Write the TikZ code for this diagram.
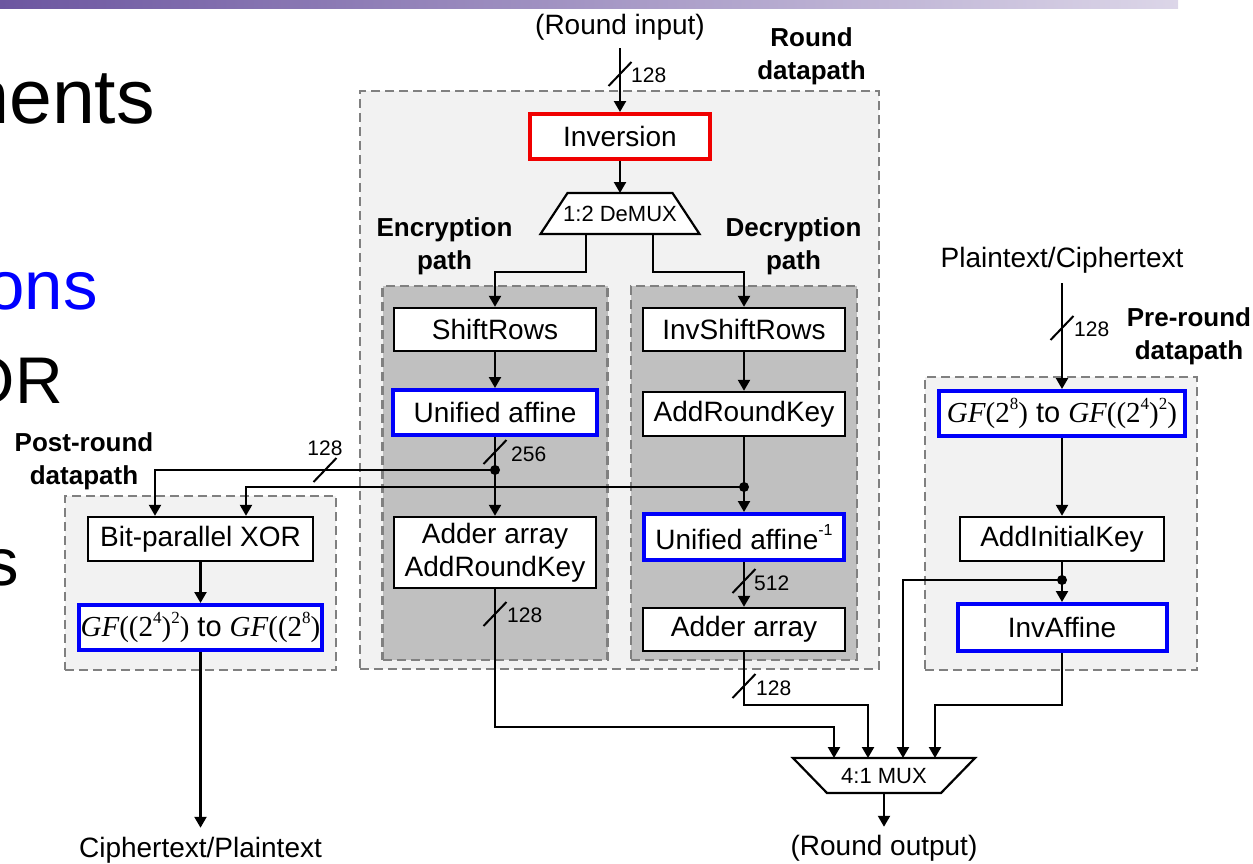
\documentclass[tikz,border=0pt]{standalone}
\usepackage{fontspec}
\setmainfont{Liberation Sans}
\newfontfamily\tnr{Liberation Serif}
\usetikzlibrary{arrows.meta}

\definecolor{grpfill}{RGB}{242,242,242}
\definecolor{pathfill}{RGB}{192,192,192}
\definecolor{grpline}{RGB}{128,128,128}
\definecolor{hlblue}{RGB}{0,0,250}
\definecolor{hlred}{RGB}{240,0,0}
\definecolor{barL}{RGB}{108,86,160}
\definecolor{barR}{RGB}{220,214,232}
\definecolor{slideblue}{RGB}{0,0,255}

% small raised digit in the serif face
\newcommand{\supx}[1]{\raisebox{0.42em}{\fontsize{17}{17}\selectfont\tnr #1}}
\newcommand{\gfit}{{\tnr\itshape GF}}

\begin{document}
\begin{tikzpicture}[x=1pt,y=-1pt,
  box/.style={draw, line width=2.4pt, fill=white, inner sep=0pt,
    minimum width=202pt, minimum height=43pt, align=center,
    font=\fontsize{28}{33}\selectfont},
  hlbox/.style={box, draw=hlblue, line width=4pt},
  grp/.style={draw=grpline, line width=2.2pt, dash pattern=on 9pt off 5pt, inner sep=0pt},
  wire/.style={line width=2.3pt},
  conn/.style={line width=2.3pt, -{Triangle[length=11pt,width=12pt]}},
  lbl/.style={font=\bfseries\fontsize{26}{33}\selectfont, align=center, inner sep=0pt},
  txt/.style={font=\fontsize{28}{32}\selectfont, inner sep=0pt},
  num/.style={font=\fontsize{21}{24}\selectfont, inner sep=0pt},
  bustick/.pic={\draw[line width=2pt] (-11.5,12) -- (11.5,-12);}
]
\useasboundingbox (0,0) rectangle (1253,863);
\clip (0,0) rectangle (1253,863);

% slide title bar and bullet text
\shade[left color=barL, right color=barR] (0,0) rectangle (1178,8);
\node[anchor=base east, inner sep=0pt, font=\fontsize{77}{80}\selectfont] (s1) at (155,123) {ments};
\node[anchor=base east, inner sep=0pt, text=slideblue, font=\fontsize{69}{72}\selectfont] (s2) at (98,309) {ons};
\node[anchor=base east, inner sep=0pt, font=\fontsize{66}{70}\selectfont] (s3) at (63,403) {OR};
\node[anchor=base east, inner sep=0pt, font=\fontsize{67}{70}\selectfont] (s4) at (19,585) {s};

% datapath groups
\node[grp, fill=grpfill, minimum width=519pt, minimum height=578pt] (rdp) at (619.5,380.25) {};
\node[grp, fill=pathfill, minimum width=225pt, minimum height=374pt] (enc) at (495,473) {};
\node[grp, fill=pathfill, minimum width=226pt, minimum height=374pt] (dec) at (744,473) {};
\node[grp, fill=grpfill, minimum width=272pt, minimum height=293pt] (pre) at (1061,523.5) {};
\node[grp, fill=grpfill, minimum width=271pt, minimum height=174pt] (post) at (200.5,583) {};

% group captions
\node[lbl] (lrdp) at (811.5,56) {Round\\datapath};
\node[lbl] (lenc) at (444.5,246.5) {Encryption\\path};
\node[lbl] (ldec) at (793.5,246.5) {Decryption\\path};
\node[lbl] (lpre) at (1189,336) {Pre-round\\datapath};
\node[lbl] (lpost) at (84,461) {Post-round\\datapath};

% terminals
\node[txt] (rin) at (620,27) {(Round input)};
\node[txt] (rout) at (884,848) {(Round output)};
\node[txt] (ptxt) at (1062,260) {Plaintext/Ciphertext};
\node[txt] (ctxt) at (200.5,850) {Ciphertext/Plaintext};

% round datapath
\node[box, draw=hlred, line width=4pt, minimum width=179.5pt, minimum height=45pt] (inv) at (620,136.5) {Inversion};
\draw[line width=2.2pt, fill=white] (567.5,193) -- (672.5,193) -- (699.5,234) -- (540.5,234) -- cycle;
\node[inner sep=0pt, font=\fontsize{22}{24}\selectfont] (demux) at (620,214) {1:2 DeMUX};
\coordinate (dmT) at (620,193);
\coordinate (dmL) at (586,234);
\coordinate (dmR) at (653,234);

\node[box] (sr) at (495,329.5) {ShiftRows};
\node[hlbox, minimum width=204pt, minimum height=45pt] (ua) at (495,412.5) {Unified affine};
\node[box, minimum height=71pt] (aa) at (495,552.5) {Adder array\\AddRoundKey};

\node[box] (isr) at (744,329.5) {InvShiftRows};
\node[box, minimum height=44pt] (ark) at (744,414) {AddRoundKey};
\node[hlbox, minimum width=200pt, minimum height=46pt] (uai) at (744,537) {Unified affine\raisebox{0.5em}{\fontsize{16}{16}\selectfont -1}};
\node[box] (adec) at (744,629.5) {Adder array};

% pre-round datapath
\node[hlbox, minimum width=246pt, minimum height=45pt, font=\fontsize{29}{33}\selectfont] (gfpre) at (1062,413.5)
  {\gfit{\tnr(2\supx{8})} to \gfit{\tnr((2\supx{4})\supx{2})}};
\node[box, minimum width=204pt, minimum height=44pt] (aik) at (1062,539) {AddInitialKey};
\node[hlbox, minimum width=209pt, minimum height=47pt] (iaf) at (1062,627.5) {InvAffine};

% post-round datapath
\node[box, minimum width=225pt, minimum height=44pt] (xor) at (200.5,539) {Bit-parallel XOR};
\node[hlbox, minimum width=243pt, minimum height=45pt, font=\fontsize{29}{33}\selectfont] (gfpost) at (200.5,627.5)
  {\gfit{\tnr((2\supx{4})\supx{2})} to \gfit{\tnr((2\supx{8})}};

% output multiplexer
\draw[line width=2.2pt, fill=white] (793,758) -- (975,758) -- (941,793) -- (827,793) -- cycle;
\node[inner sep=0pt, font=\fontsize{22}{24}\selectfont] (mux) at (884,776) {4:1 MUX};
\coordinate (m1) at (834,758);
\coordinate (m2) at (868,758);
\coordinate (m3) at (903,758);
\coordinate (m4) at (935,758);
\coordinate (mout) at (884,793);

% junctions
\coordinate (d1) at (495,470);
\coordinate (d2) at (744,487);
\coordinate (d3) at (1062,580);

% connectors
\draw[conn] ([yshift=-8pt]rin.south) -- (inv.north);
\draw[conn] (inv.south) -- (dmT);
\draw[conn] (dmL) -- (dmL |- 0,272) -| (sr.north);
\draw[conn] (dmR) -- (dmR |- 0,272) -| (isr.north);
\draw[conn] (sr.south) -- (ua.north);
\draw[wire] (ua.south) -- (d1);
\draw[conn] (d1) -- (aa.north);
\draw[conn] (d1) -| ([xshift=-45.5pt]xor.north);
\draw[conn] (isr.south) -- (ark.north);
\draw[wire] (ark.south) -- (d2);
\draw[conn] (d2) -- (uai.north);
\draw[conn] (d2) -| ([xshift=45.5pt]xor.north);
\draw[conn] (uai.south) -- (adec.north);
\draw[conn] (aa.south) -- (aa.south |- 0,727) -| (m1);
\draw[conn] (adec.south) -- (adec.south |- 0,705) -| (m2);
\draw[conn] ([yshift=-10pt]ptxt.south) -- (gfpre.north);
\draw[conn] (gfpre.south) -- (aik.north);
\draw[wire] (aik.south) -- (d3);
\draw[conn] (d3) -- (iaf.north);
\draw[conn] (d3) -| (m3);
\draw[conn] (iaf.south) -- (iaf.south |- 0,705) -| (m4);
\draw[conn] (mout) -- ([yshift=8pt]rout.north);
\draw[conn] (xor.south) -- (gfpost.north);
\draw[conn] (gfpost.south) -- ([yshift=9pt]ctxt.north);

% bus width marks
\pic at (620,74) {bustick};
\pic at (495,452) {bustick};
\pic at (495,614) {bustick};
\pic at (744,581) {bustick};
\pic at (744,686) {bustick};
\pic at (1062,328) {bustick};
\pic at (325,470) {bustick};
\node[num, anchor=west] (w1) at (631,75) {128};
\node[num, anchor=west] (w2) at (511,454) {256};
\node[num, anchor=west] (w3) at (507,615) {128};
\node[num, anchor=west] (w4) at (754,583) {512};
\node[num, anchor=west] (w5) at (756,688) {128};
\node[num, anchor=west] (w6) at (1074,329) {128};
\node[num] (w7) at (325,448) {128};

% junction dots
\fill (d1) circle (5pt);
\fill (d2) circle (5pt);
\fill (d3) circle (5pt);
\end{tikzpicture}
\end{document}
